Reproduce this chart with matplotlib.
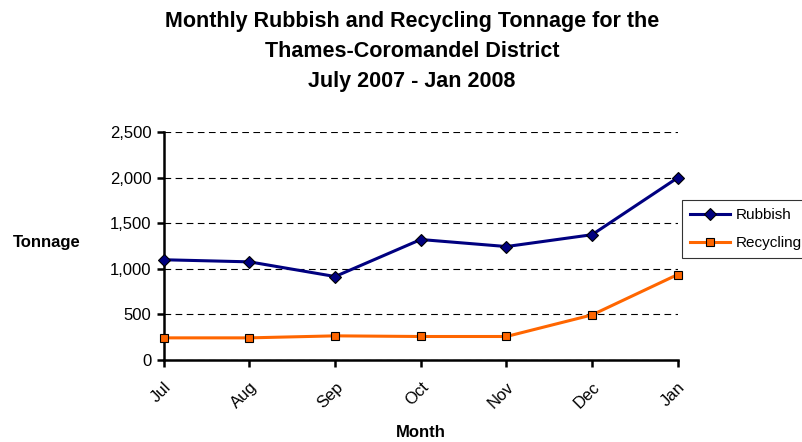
import matplotlib.pyplot as plt
from matplotlib.ticker import FuncFormatter

plt.rcParams['font.family'] = ['Liberation Sans', 'DejaVu Sans']

months = ["Jul", "Aug", "Sep", "Oct", "Nov", "Dec", "Jan"]
rubbish = [1100, 1077, 916, 1322, 1245, 1375, 2000]
recycling = [243, 243, 265, 258, 258, 495, 938]

fig = plt.figure(figsize=(8.03, 4.42), dpi=100)
ax = fig.add_axes([0.204, 0.1855, 0.64, 0.5155])

x = range(len(months))
ax.plot(x, rubbish, color='#000080', lw=2.2, marker='D', ms=6,
        mfc='#000080', mec='black', mew=0.8, label='Rubbish', clip_on=False, zorder=4)
ax.plot(x, recycling, color='#FF6600', lw=2.2, marker='s', ms=6,
        mfc='#FF6600', mec='black', mew=0.8, label='Recycling', clip_on=False, zorder=3)

ax.set_xlim(0, len(months) - 1)
ax.set_ylim(0, 2500)
ax.set_yticks(range(0, 2501, 500))
ax.yaxis.set_major_formatter(FuncFormatter(lambda v, p: f"{int(v):,}"))
ax.set_xticks(list(x))
ax.set_xticklabels(months, rotation=45, ha='right', va='top', rotation_mode='anchor')

ax.grid(axis='y', color='black', ls=(0, (6, 4)), lw=0.8)
ax.set_axisbelow(True)
for s in ['top', 'right']:
    ax.spines[s].set_visible(False)
for s in ['left', 'bottom']:
    ax.spines[s].set_linewidth(1.8)
ax.tick_params(axis='both', direction='out', width=1.8, length=5, labelsize=12, colors='black')
ax.tick_params(axis='y', pad=4)
ax.tick_params(axis='x', pad=9)

ax.set_xlabel("Month", fontsize=12, fontweight='bold', labelpad=10)
fig.text(0.016, 0.452, "Tonnage", fontsize=12, fontweight='bold', va='center', ha='left')

fig.suptitle("Monthly Rubbish and Recycling Tonnage for the\nThames-Coromandel District\nJuly 2007 - Jan 2008",
             x=0.513, y=0.975, fontsize=15.5, fontweight='bold', linespacing=1.55, va='top')

leg = fig.legend(loc='upper left', bbox_to_anchor=(0.849, 0.548), fontsize=11,
                 frameon=True, fancybox=False, edgecolor='black', borderpad=0.55,
                 handlelength=2.6, handletextpad=0.4, labelspacing=0.9, borderaxespad=0)
leg.get_frame().set_linewidth(0.8)

fig.savefig("out.png", dpi=100)
